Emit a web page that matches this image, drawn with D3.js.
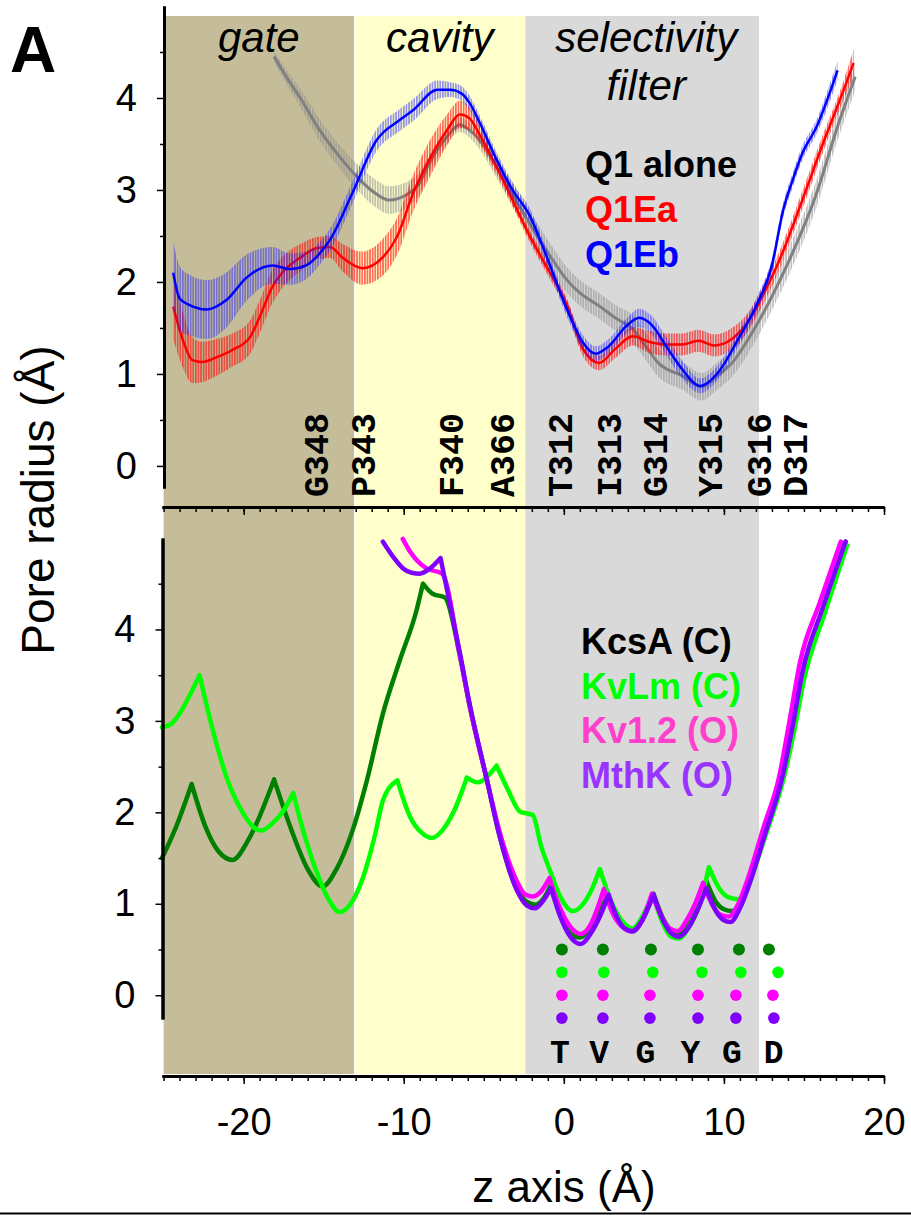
<!DOCTYPE html>
<html>
<head>
<meta charset="utf-8">
<script src="https://cdn.jsdelivr.net/npm/d3@7"></script>
<style>
  body { margin: 0; background: #fff; }
  svg { display: block; font-family: Arial, "Liberation Sans", sans-serif; }
</style>
</head>
<body>
<div id="chart"></div>
<script>
// ---- data ----
// pore regions along z (Angstrom)
var regions = [
  { name: "gate", z0: -25, z1: -13.1, color: "#c5bd99" },
  { name: "cavity", z0: -13.1, z1: -2.4, color: "#ffffcc" },
  { name: "selectivity filter", z0: -2.4, z1: 12.2, color: "#d9d9d9" }
]

// top panel: [z, mean radius, error]
var q1Alone = [
  [-18.1, 4.45, 0.06], [-17.3, 4.22, 0.08], [-16.5, 4.01, 0.1], [-15.25, 3.65, 0.12],
  [-14.0, 3.36, 0.13], [-12.9, 3.14, 0.14], [-11.9, 2.98, 0.15], [-10.9, 2.89, 0.15],
  [-9.8, 2.95, 0.14], [-9.0, 3.08, 0.12], [-8.4, 3.29, 0.1], [-7.3, 3.58, 0.08],
  [-6.5, 3.71, 0.08], [-5.9, 3.65, 0.08], [-5.25, 3.54, 0.1], [-4.2, 3.25, 0.12],
  [-3.2, 2.95, 0.13], [-2.1, 2.62, 0.14], [-1.0, 2.32, 0.14], [0.2, 2.02, 0.14],
  [1.0, 1.88, 0.14], [2.2, 1.74, 0.14], [3.3, 1.6, 0.14], [4.3, 1.49, 0.15],
  [5.2, 1.28, 0.15], [5.9, 1.12, 0.15], [7.4, 0.98, 0.15], [8.6, 0.86, 0.15],
  [9.6, 0.98, 0.15], [10.5, 1.12, 0.15], [12.1, 1.55, 0.15], [13.8, 2.13, 0.15],
  [15.8, 2.97, 0.15], [17.1, 3.69, 0.15], [18.2, 4.23, 0.15]
]
var q1Ea = [
  [-24.4, 1.73, 0.35], [-23.8, 1.37, 0.3], [-23.2, 1.15, 0.25], [-22.6, 1.13, 0.22],
  [-21.7, 1.18, 0.2], [-20.7, 1.26, 0.18], [-19.6, 1.40, 0.18], [-19.0, 1.62, 0.18],
  [-18.2, 1.95, 0.18], [-17.6, 2.10, 0.17], [-16.5, 2.26, 0.15], [-15.4, 2.37, 0.12],
  [-14.6, 2.38, 0.12], [-13.8, 2.26, 0.15], [-12.6, 2.15, 0.18], [-11.3, 2.27, 0.2],
  [-10.4, 2.5, 0.2], [-9.4, 2.97, 0.2], [-8.4, 3.33, 0.2], [-7.3, 3.65, 0.17],
  [-6.5, 3.82, 0.15], [-5.9, 3.78, 0.12], [-5.25, 3.60, 0.1], [-4.2, 3.25, 0.08],
  [-3.2, 2.89, 0.07], [-2.1, 2.49, 0.07], [-1.06, 2.16, 0.07], [0.2, 1.75, 0.07],
  [1.2, 1.27, 0.08], [2.2, 1.12, 0.08], [3.2, 1.27, 0.1], [4.3, 1.41, 0.1],
  [5.3, 1.35, 0.12], [6.4, 1.32, 0.12], [7.4, 1.32, 0.12], [8.4, 1.36, 0.12],
  [9.4, 1.31, 0.12], [10.5, 1.38, 0.12], [11.6, 1.59, 0.1], [12.6, 1.91, 0.1],
  [13.5, 2.25, 0.1], [14.9, 2.89, 0.1], [16.2, 3.51, 0.1], [17.4, 4.05, 0.1],
  [18.1, 4.38, 0.15]
]
var q1Eb = [
  [-24.4, 2.1, 0.35], [-24.0, 1.82, 0.35], [-23.4, 1.75, 0.33], [-22.3, 1.70, 0.32],
  [-21.1, 1.80, 0.3], [-19.8, 2.05, 0.25], [-18.2, 2.18, 0.2], [-17.1, 2.14, 0.17],
  [-16.1, 2.18, 0.15], [-15.06, 2.35, 0.12], [-14.6, 2.46, 0.12], [-13.2, 2.97, 0.12],
  [-11.7, 3.54, 0.12], [-10.25, 3.76, 0.12], [-9.4, 3.87, 0.12], [-7.9, 4.09, 0.1],
  [-7.1, 4.09, 0.08], [-6.4, 4.05, 0.08], [-5.9, 3.95, 0.08], [-5.25, 3.73, 0.08],
  [-4.2, 3.33, 0.08], [-3.2, 3.0, 0.08], [-2.1, 2.71, 0.08], [-1.06, 2.27, 0.08],
  [0.2, 1.70, 0.08], [1.2, 1.34, 0.08], [2.0, 1.22, 0.08], [2.8, 1.30, 0.08],
  [3.9, 1.52, 0.08], [4.7, 1.61, 0.1], [5.5, 1.53, 0.1], [6.4, 1.30, 0.1],
  [7.4, 1.05, 0.1], [8.5, 0.87, 0.08], [9.7, 1.03, 0.08], [10.9, 1.38, 0.08],
  [12.1, 1.77, 0.08], [13.0, 2.18, 0.08], [13.7, 2.78, 0.08], [14.3, 3.11, 0.08],
  [14.9, 3.40, 0.08], [15.8, 3.69, 0.08], [16.6, 4.05, 0.1], [17.1, 4.30, 0.1]
]

// bottom panel: [z, radius]
var kcsA = [
  [-25.1, 1.50], [-24.2, 1.85], [-23.25, 2.31], [-22.4, 1.85], [-21.6, 1.58], [-20.7, 1.48],
  [-19.7, 1.70], [-18.1, 2.36], [-17.0, 1.80], [-16.0, 1.38], [-15.06, 1.19], [-14.2, 1.38],
  [-13.2, 1.80], [-12.3, 2.35], [-11.3, 3.08], [-10.25, 3.66], [-9.2, 4.21], [-8.8, 4.50],
  [-8.2, 4.39], [-7.44, 4.35], [-6.5, 3.72], [-5.9, 3.18], [-4.8, 2.35], [-4.0, 1.74],
  [-2.94, 1.16], [-2.3, 1.02], [-1.75, 0.99], [-1.3, 1.05], [-0.8, 1.21], [-0.2, 0.88],
  [0.4, 0.68], [1.0, 0.63], [1.6, 0.72], [2.2, 0.90], [2.75, 1.10], [3.3, 0.86],
  [3.8, 0.74], [4.3, 0.70], [4.9, 0.82], [5.6, 1.11], [6.2, 0.84], [6.7, 0.71],
  [7.2, 0.67], [7.8, 0.77], [8.4, 0.98], [8.9, 1.25], [9.5, 1.02], [10.0, 0.94],
  [10.5, 0.92], [11.0, 0.98], [11.7, 1.30], [12.6, 1.80], [13.6, 2.35], [14.3, 2.90],
  [14.9, 3.50], [16.2, 4.22], [17.6, 4.96]
]
var kvLm = [
  [-25.1, 2.93], [-24.5, 2.97], [-24.0, 3.08], [-23.4, 3.27], [-22.75, 3.50], [-22.0, 2.95],
  [-21.0, 2.35], [-20.0, 1.98], [-19.4, 1.84], [-18.9, 1.80], [-18.2, 1.88], [-17.5, 2.02],
  [-16.9, 2.21], [-16.2, 1.75], [-15.4, 1.33], [-14.7, 1.05], [-14.0, 0.91], [-13.4, 0.98],
  [-12.6, 1.26], [-11.8, 1.75], [-11.3, 2.13], [-10.4, 2.35], [-9.6, 1.95], [-8.9, 1.78],
  [-8.25, 1.72], [-7.6, 1.80], [-6.9, 2.0], [-6.06, 2.38], [-5.4, 2.33], [-4.2, 2.51],
  [-3.5, 2.25], [-2.75, 2.01], [-1.94, 1.97], [-1.4, 1.62], [-0.9, 1.38], [-0.2, 1.07],
  [0.56, 0.92], [1.3, 1.02], [1.8, 1.18], [2.25, 1.38], [2.9, 1.05], [3.6, 0.82],
  [4.3, 0.73], [4.9, 0.86], [5.56, 1.10], [6.2, 0.78], [6.7, 0.64], [7.2, 0.62],
  [7.8, 0.74], [8.5, 1.0], [9.06, 1.40], [9.7, 1.17], [10.3, 1.07], [10.9, 1.05],
  [11.5, 1.18], [12.1, 1.48], [12.8, 1.85], [13.7, 2.35], [14.4, 2.9], [15.0, 3.45],
  [16.3, 4.18], [17.7, 4.92]
]
var kv12 = [
  [-10.06, 4.99], [-9.6, 4.85], [-9.2, 4.76], [-8.6, 4.67], [-7.6, 4.61], [-6.5, 3.72],
  [-5.9, 3.18], [-4.8, 2.35], [-4.0, 1.78], [-2.94, 1.25], [-2.4, 1.1], [-1.94, 1.08],
  [-1.4, 1.14], [-0.9, 1.28], [-0.3, 0.98], [0.4, 0.75], [1.06, 0.67], [1.7, 0.78],
  [2.1, 0.95], [2.5, 1.16], [3.1, 0.88], [3.7, 0.74], [4.2, 0.70], [4.9, 0.82],
  [5.5, 1.11], [6.1, 0.86], [6.6, 0.73], [7.1, 0.70], [7.7, 0.83], [8.2, 1.0],
  [8.7, 1.23], [9.3, 0.98], [9.8, 0.88], [10.3, 0.86], [10.9, 1.0], [11.6, 1.33],
  [12.5, 1.85], [13.4, 2.35], [14.1, 3.0], [14.75, 3.64], [16.0, 4.3], [17.3, 4.96]
]
var mthK = [
  [-11.3, 4.96], [-10.6, 4.78], [-10.06, 4.67], [-9.5, 4.62], [-9.0, 4.61], [-8.4, 4.66],
  [-7.7, 4.78], [-6.5, 3.75], [-5.9, 3.2], [-4.8, 2.35], [-4.0, 1.73], [-2.94, 1.15],
  [-2.3, 0.98], [-1.8, 0.95], [-1.3, 1.03], [-0.8, 1.17], [-0.2, 0.85], [0.4, 0.64],
  [1.06, 0.56], [1.7, 0.68], [2.3, 0.88], [2.8, 1.10], [3.3, 0.86], [3.8, 0.73],
  [4.3, 0.70], [4.9, 0.82], [5.6, 1.10], [6.2, 0.82], [6.7, 0.68], [7.2, 0.64],
  [7.8, 0.74], [8.4, 0.95], [8.9, 1.17], [9.5, 0.92], [10.0, 0.82], [10.4, 0.80],
  [11.0, 0.95], [11.7, 1.27], [12.6, 1.78], [13.6, 2.35], [14.3, 2.95], [14.9, 3.53],
  [16.2, 4.25], [17.6, 4.96]
]

// ion binding site markers (z of each site), one row per channel
var kcsASites = [-0.12, 2.44, 5.44, 8.38, 10.94, 12.81]
var kvLmSites = [-0.12, 2.5, 5.56, 8.63, 11.06, 13.38]
var kv12Sites = [-0.12, 2.44, 5.38, 8.38, 10.75, 13.06]
var mthKSites = [-0.12, 2.44, 5.38, 8.38, 10.75, 13.12]

// residue labels
var q1Residues = ["G348", "P343", "F340", "A366", "T312", "I313", "G314", "Y315", "G316", "D317"]
var q1ResidueZ = [-15.4, -12.5, -7.0, -3.8, -0.19, 2.9, 5.75, 9.2, 12.25, 14.5]
var filterResidues = ["T", "V", "G", "Y", "G", "D"]
var filterResidueZ = [-0.25, 2.2, 5.1, 7.9, 10.5, 13.1]

var yMajor = [0, 1, 2, 3, 4]
var yMinor = [0.5, 1.5, 2.5, 3.5, 4.5]
var xMajor = [-20, -10, 0, 10, 20]

// ---- layout ----
var width = 911
var height = 1215

var svg = d3.select("#chart").append("svg")
  .attr("width", width).attr("height", height)

var x = d3.scaleLinear().domain([-25.1, 20]).range([162, 884])
var yTop = d3.scaleLinear().domain([-0.24, 5]).range([488, 6])
var yBot = d3.scaleLinear().domain([-0.26, 5]).range([1019, 538])

var defs = svg.append("defs")
function hatch(id, color, op) {
  var p = defs.append("pattern").attr("id", id)
    .attr("patternUnits", "userSpaceOnUse")
    .attr("width", 2.6).attr("height", 10)
  p.append("rect").attr("x", 0.3).attr("y", 0).attr("width", 1.1).attr("height", 10)
    .attr("fill", color).attr("fill-opacity", op)
}
hatch("hGray", "#8c8c8c", 0.85)
hatch("hRed", "#ff0000", 0.9)
hatch("hBlue", "#2020ff", 0.75)

// shaded regions spanning both panels
svg.append("g").selectAll("rect")
  .data(regions)
  .enter().append("rect")
  .attr("x", function(d, i) { return x(d.z0) + (i == 1 ? 2 : 0) })
  .attr("width", function(d, i) { return x(d.z1) - x(d.z0) - (i == 1 ? 2 : 0) })
  .attr("y", 16)
  .attr("height", 1074 - 16)
  .attr("fill", function(d) { return d.color })

// region labels
var rl = svg.append("g").attr("font-style", "italic").attr("font-size", 42).attr("text-anchor", "middle")
rl.append("text").attr("x", (x(regions[0].z0) + x(regions[0].z1)) / 2).attr("y", 52).text("gate")
rl.append("text").attr("x", (x(regions[1].z0) + x(regions[1].z1)) / 2).attr("y", 52).text("cavity")
rl.append("text").attr("x", (x(regions[2].z0) + x(regions[2].z1)) / 2 + 4).attr("y", 52).text("selectivity")
rl.append("text").attr("x", (x(regions[2].z0) + x(regions[2].z1)) / 2 + 4).attr("y", 100).text("filter")

// residue labels, top panel (vertical, monospace)
svg.append("g").selectAll("text")
  .data(q1Residues)
  .enter().append("text")
  .attr("transform", function(d, i) { return "translate(" + (x(q1ResidueZ[i]) + 11) + ",497) rotate(-90)" })
  .attr("font-family", "'Liberation Mono', 'Courier New', monospace")
  .attr("font-weight", "bold")
  .attr("font-size", 35)
  .text(function(d) { return d })

// ---- top panel: mean +/- error ----
var topSeries = [
  { data: q1Alone, line: "#808080", fill: "url(#hGray)", w: 3 },
  { data: q1Ea, line: "#ff0000", fill: "url(#hRed)", w: 2.5 },
  { data: q1Eb, line: "#0000ff", fill: "url(#hBlue)", w: 2.5 }
]
var band = d3.area()
  .x(function(d) { return x(d[0]) })
  .y0(function(d) { return yTop(d[1] - d[2]) })
  .y1(function(d) { return yTop(d[1] + d[2]) })
  .curve(d3.curveMonotoneX)
var meanLine = d3.line()
  .x(function(d) { return x(d[0]) })
  .y(function(d) { return yTop(d[1]) })
  .curve(d3.curveMonotoneX)

var topG = svg.append("g")
topSeries.forEach(function(s) {
  topG.append("path").attr("d", band(s.data)).attr("fill", s.fill)
  topG.append("path").attr("d", meanLine(s.data))
    .attr("fill", "none").attr("stroke", s.line).attr("stroke-width", s.w)
})

// ---- bottom panel: HOLE profiles of crystal structures ----
var botLine = d3.line()
  .x(function(d) { return x(d[0]) })
  .y(function(d) { return yBot(d[1]) })
  .curve(d3.curveMonotoneX)

// break at local maxima so the peaks stay sharp
function cuspPath(pts) {
  var pieces = [], cur = [pts[0]]
  for (var i = 1; i < pts.length; i++) {
    cur.push(pts[i])
    if (i < pts.length - 1 && pts[i][1] > pts[i - 1][1] && pts[i][1] > pts[i + 1][1]) {
      pieces.push(cur)
      cur = [pts[i]]
    }
  }
  pieces.push(cur)
  return pieces.map(function(p) { return botLine(p) }).join("")
}

var botSeries = [
  { data: kcsA, color: "#008000", sites: kcsASites },
  { data: kvLm, color: "#00ff00", sites: kvLmSites },
  { data: kv12, color: "#ff00ff", sites: kv12Sites },
  { data: mthK, color: "#8000ff", sites: mthKSites }
]
var botG = svg.append("g")
botSeries.forEach(function(s) {
  botG.append("path").attr("d", cuspPath(s.data))
    .attr("fill", "none").attr("stroke", s.color).attr("stroke-width", 4.5)
    .attr("stroke-linejoin", "round").attr("stroke-linecap", "round")
})

// binding site rows
botSeries.forEach(function(s, row) {
  botG.append("g").selectAll("circle")
    .data(s.sites)
    .enter().append("circle")
    .attr("cx", function(d) { return x(d) })
    .attr("cy", yBot(0.5 - 0.25 * row))
    .attr("r", row == 0 ? 6 : 5.8)
    .attr("fill", s.color)
})

svg.append("g").selectAll("text")
  .data(filterResidues)
  .enter().append("text")
  .attr("x", function(d, i) { return x(filterResidueZ[i]) })
  .attr("y", 1063)
  .attr("text-anchor", "middle")
  .attr("font-family", "'Liberation Mono', 'Courier New', monospace")
  .attr("font-weight", "bold")
  .attr("font-size", 33)
  .text(function(d) { return d })

// ---- axes ----
function styleAxis(g) {
  g.select(".domain").attr("stroke-width", 3)
  g.selectAll(".tick line").attr("stroke-width", 1.5)
  g.selectAll(".tick text").attr("font-size", 38).attr("font-family", "Arial, 'Liberation Sans', sans-serif")
}

;[yTop, yBot].forEach(function(ys, k) {
  var xPos = k == 0 ? 164 : 162.5
  svg.append("g").attr("transform", "translate(" + xPos + ",0)")
    .call(d3.axisLeft(ys).tickValues(yMinor).tickSize(4).tickSizeOuter(0).tickFormat(""))
    .call(styleAxis)
  svg.append("g").attr("transform", "translate(" + xPos + ",0)")
    .call(d3.axisLeft(ys).tickValues(yMajor).tickSize(7).tickSizeOuter(0).tickPadding(20).tickFormat(d3.format("d")))
    .call(styleAxis)
})

;[507, 1076].forEach(function(yPos, k) {
  svg.append("g").attr("transform", "translate(0," + yPos + ")")
    .call(d3.axisBottom(x).tickValues(d3.range(-25, 21)).tickSize(5).tickSizeOuter(0).tickFormat(""))
    .call(styleAxis)
  var maj = svg.append("g").attr("transform", "translate(0," + yPos + ")")
    .call(d3.axisBottom(x).tickValues(xMajor).tickSize(8).tickSizeOuter(0).tickPadding(24)
      .tickFormat(k == 1 ? d3.format("d") : ""))
    .call(styleAxis)
  maj.selectAll(".tick text").text(function(d) { return k == 1 ? (d < 0 ? "-" + Math.abs(d) : d) : "" })
})

// axis titles
svg.append("text")
  .attr("transform", "translate(54,500) rotate(-90)")
  .attr("text-anchor", "middle")
  .attr("font-size", 46)
  .text("Pore radius (Å)")
svg.append("text")
  .attr("x", 564).attr("y", 1202)
  .attr("text-anchor", "middle")
  .attr("font-size", 44)
  .text("z axis (Å)")

svg.append("line").attr("x1", 0).attr("x2", width).attr("y1", 1213.5).attr("y2", 1213.5)
  .attr("stroke", "#000").attr("stroke-width", 2)

// panel letter
svg.append("text").attr("x", 10).attr("y", 72)
  .attr("font-weight", "bold").attr("font-size", 64).text("A")

// ---- legends ----
var topLegend = ["Q1 alone", "Q1Ea", "Q1Eb"]
var topLegendColors = ["#000000", "#ff0000", "#0000ff"]
var botLegend = ["KcsA (C)", "KvLm (C)", "Kv1.2 (O)", "MthK (O)"]
var botLegendColors = ["#000000", "#00ff00", "#ff40cc", "#9933ff"]

svg.append("g").selectAll("text")
  .data(topLegend)
  .enter().append("text")
  .attr("x", 585).attr("y", function(d, i) { return 177 + i * 45 })
  .attr("font-weight", "bold").attr("font-size", 36)
  .attr("fill", function(d, i) { return topLegendColors[i] })
  .text(function(d) { return d })

svg.append("g").selectAll("text")
  .data(botLegend)
  .enter().append("text")
  .attr("x", 581).attr("y", function(d, i) { return 654 + i * 44.5 })
  .attr("font-weight", "bold").attr("font-size", 36)
  .attr("fill", function(d, i) { return botLegendColors[i] })
  .text(function(d) { return d })
</script>
</body>
</html>
